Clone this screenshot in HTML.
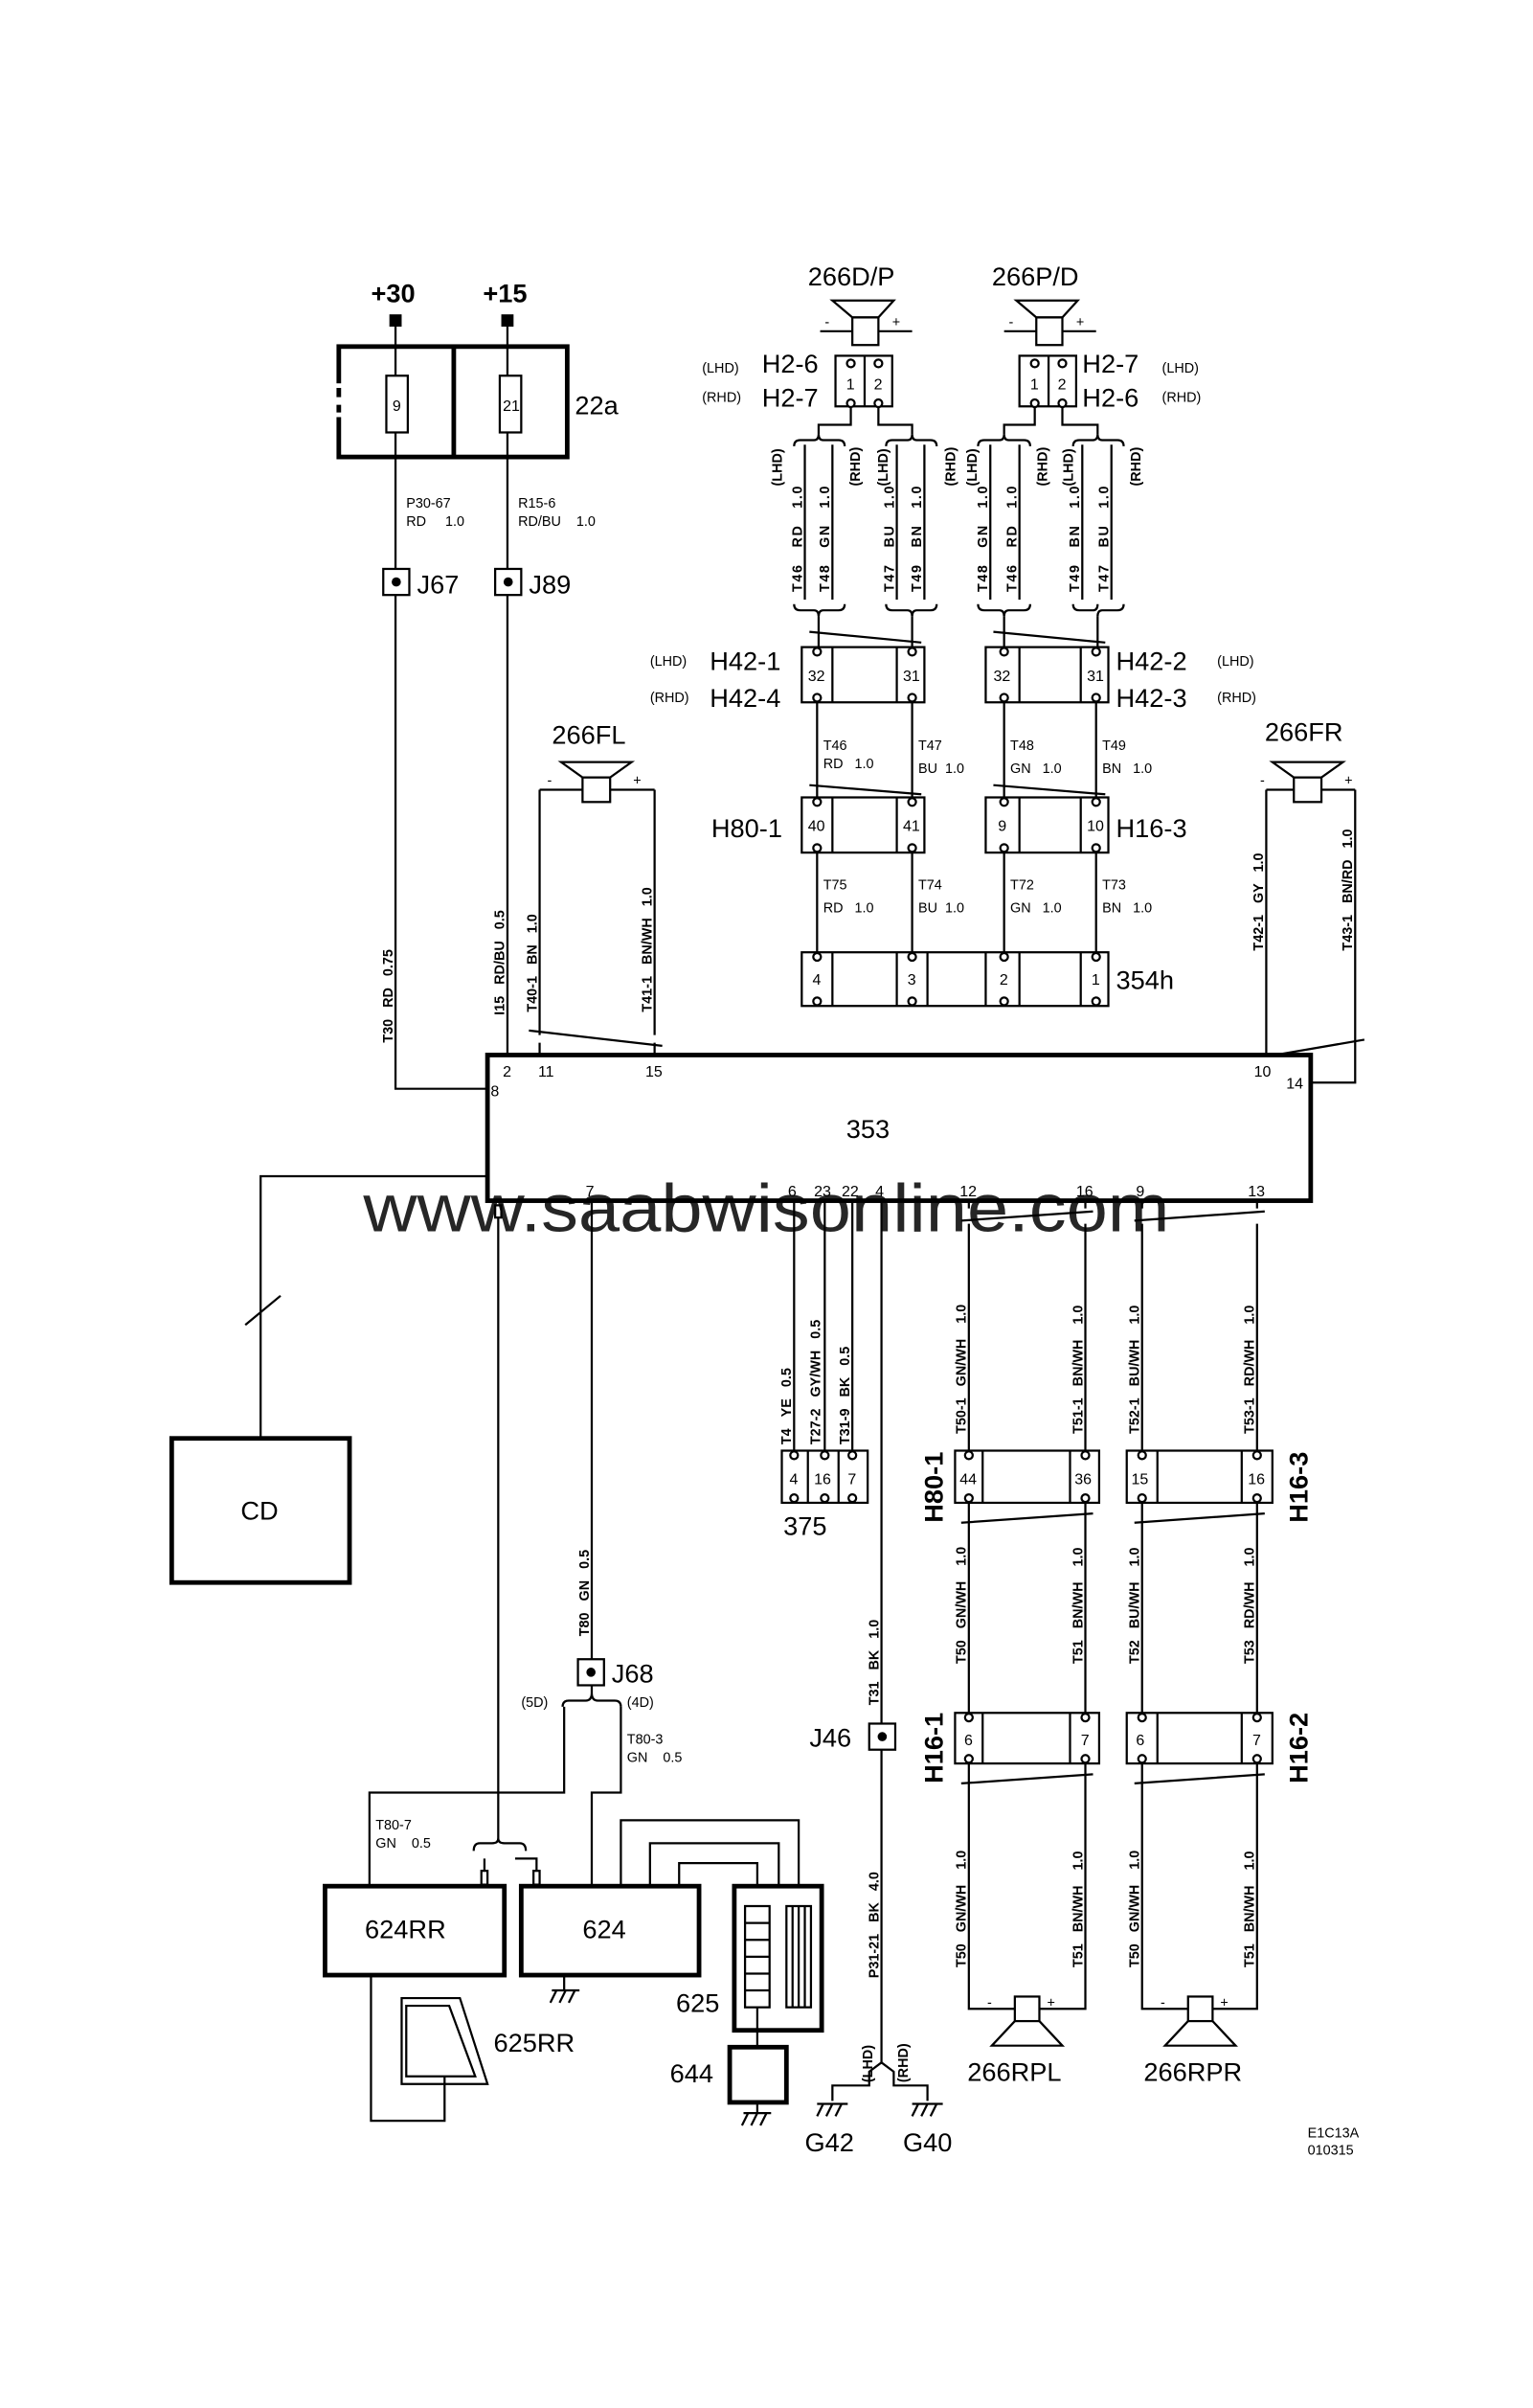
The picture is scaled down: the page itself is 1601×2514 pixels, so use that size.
<!DOCTYPE html>
<html><head><meta charset="utf-8"><style>
html,body{margin:0;padding:0;background:#fff}
svg{display:block}
text{font-family:"Liberation Sans",sans-serif;fill:#000}
.s{font-size:9px}
.m{font-size:10px}
.L{font-size:17px}
.v{font-size:9px;font-weight:bold}
.w{stroke:#000;stroke-width:1.4;fill:none}
.b{stroke:#000;stroke-width:3;fill:#fff}
.c{stroke:#000;stroke-width:1.4;fill:#fff}
</style></head><body>
<svg width="1601" height="2514" viewBox="0 0 1000 1570.3" xmlns="http://www.w3.org/2000/svg">
<rect x="0" y="0" width="1000" height="1571" fill="#fff"/>

<!-- +30 / +15 / 22a -->
<text class="L" x="242" y="197" font-weight="bold">+30</text>
<text class="L" x="315" y="197" font-weight="bold">+15</text>
<rect x="254" y="205" width="8" height="8" fill="#000"/>
<rect x="327" y="205" width="8" height="8" fill="#000"/>
<path class="w" d="M258,213V226M331,213V226"/>
<rect x="221" y="226" width="149" height="72" class="b"/>
<line x1="296" y1="226" x2="296" y2="298" stroke="#000" stroke-width="3"/>
<rect x="218" y="250" width="6" height="22" fill="#fff"/>
<line x1="221" y1="253" x2="221" y2="269" stroke="#000" stroke-width="3" stroke-dasharray="6 5"/>
<rect x="252" y="245" width="14" height="37" class="c"/>
<rect x="326" y="245" width="14" height="37" class="c"/>
<text class="m" x="256" y="268">9</text>
<text class="m" x="328" y="268">21</text>
<text class="L" x="375" y="270">22a</text>
<path class="w" d="M258,226V245M258,282V298M331,226V245M331,282V298"/>
<text class="s" x="265" y="331">P30-67</text>
<text class="s" x="265" y="343">RD &#160;&#160;&#160;&#160;1.0</text>
<text class="s" x="338" y="331">R15-6</text>
<text class="s" x="338" y="343">RD/BU &#160;&#160;&#160;1.0</text>
<path class="w" d="M258,298V371M331,298V371"/>
<rect x="250" y="371" width="17" height="17" class="c"/><circle cx="258.5" cy="379.5" r="3" fill="#000"/>
<rect x="323" y="371" width="17" height="17" class="c"/><circle cx="331.5" cy="379.5" r="3" fill="#000"/>
<text class="L" x="272" y="387">J67</text>
<text class="L" x="345" y="387">J89</text>
<path class="w" d="M258,388V710H318M331,388V688"/>
<text class="v" transform="translate(256,680) rotate(-90)">T30 &#160;&#160;RD &#160;&#160;0.75</text>
<text class="v" transform="translate(329,662) rotate(-90)">I15 &#160;&#160;RD/BU &#160;&#160;0.5</text>

<!-- 266FL -->
<text class="L" x="360" y="485">266FL</text>
<path class="w" d="M366,497H412L398,507H380Z"/>
<rect x="380" y="507" width="18" height="16" class="c"/>
<path class="w" d="M352,515H380M398,515H427M352,515V675M427,515V675"/>
<text class="s" x="357" y="512">-</text><text class="s" x="413" y="512">+</text>
<path class="w" d="M345,672L432,682M352,680V688M427,680V688"/>
<text class="v" transform="translate(350,660) rotate(-90)">T40-1 &#160;&#160;BN &#160;&#160;1.0</text>
<text class="v" transform="translate(425,660) rotate(-90)">T41-1 &#160;&#160;BN/WH &#160;&#160;1.0</text>

<!-- 266FR -->
<text class="L" x="825" y="483">266FR</text>
<path class="w" d="M830,497H876L862,507H844Z"/>
<rect x="844" y="507" width="18" height="16" class="c"/>
<path class="w" d="M826,515H844M862,515H884M826,515V690M884,515V706H855"/>
<text class="s" x="822" y="512">-</text><text class="s" x="877" y="512">+</text>
<path class="w" d="M820,690L890,678"/>
<text class="v" transform="translate(824,620) rotate(-90)">T42-1 &#160;&#160;GY &#160;&#160;1.0</text>
<text class="v" transform="translate(882,620) rotate(-90)">T43-1 &#160;&#160;BN/RD &#160;&#160;1.0</text>

<!-- 353 module -->
<rect x="318" y="688" width="537" height="95" class="b" stroke-width="2.5"/>
<text class="L" x="552" y="742">353</text>
<text class="m" x="320" y="715">8</text>
<text class="m" x="328" y="702">2</text>
<text class="m" x="351" y="702">11</text>
<text class="m" x="421" y="702">15</text>
<text class="m" x="818" y="702">10</text>
<text class="m" x="839" y="710">14</text>
<text class="m" x="382" y="780">7</text>
<text class="m" x="514" y="780">6</text>
<text class="m" x="531" y="780">23</text>
<text class="m" x="549" y="780">22</text>
<text class="m" x="571" y="780">4</text>
<text class="m" x="626" y="780">12</text>
<text class="m" x="702" y="780">16</text>
<text class="m" x="741" y="780">9</text>
<text class="m" x="814" y="780">13</text>

<!-- Top speakers 266D/P, 266P/D -->
<text class="L" x="527" y="186">266D/P</text>
<text class="L" x="647" y="186">266P/D</text>
<path class="w" d="M543,196H583L573,207H556Z"/>
<rect x="556" y="207" width="17" height="18" class="c"/>
<path class="w" d="M535,216H556M573,216H595"/>
<text class="s" x="538" y="213">-</text><text class="s" x="582" y="213">+</text>
<path class="w" d="M663,196H703L693,207H676Z"/>
<rect x="676" y="207" width="17" height="18" class="c"/>
<path class="w" d="M655,216H676M693,216H715"/>
<text class="s" x="658" y="213">-</text><text class="s" x="702" y="213">+</text>
<!-- H2 connectors -->
<rect x="545" y="232" width="37" height="33" class="c"/><line x1="564" y1="232" x2="564" y2="265" stroke="#000" stroke-width="1.4"/>
<rect x="665" y="232" width="37" height="33" class="c"/><line x1="684" y1="232" x2="684" y2="265" stroke="#000" stroke-width="1.4"/>
<text class="m" x="552" y="254">1</text><text class="m" x="570" y="254">2</text>
<text class="m" x="672" y="254">1</text><text class="m" x="690" y="254">2</text>
<circle cx="555" cy="237" r="2.5" class="c"/><circle cx="573" cy="237" r="2.5" class="c"/>
<circle cx="555" cy="263" r="2.5" class="c"/><circle cx="573" cy="263" r="2.5" class="c"/>
<circle cx="675" cy="237" r="2.5" class="c"/><circle cx="693" cy="237" r="2.5" class="c"/>
<circle cx="675" cy="263" r="2.5" class="c"/><circle cx="693" cy="263" r="2.5" class="c"/>
<text class="s" x="458" y="243">(LHD)</text><text class="L" x="497" y="243">H2-6</text>
<text class="s" x="458" y="262">(RHD)</text><text class="L" x="497" y="265">H2-7</text>
<text class="L" x="706" y="243">H2-7</text><text class="s" x="758" y="243">(LHD)</text>
<text class="L" x="706" y="265">H2-6</text><text class="s" x="758" y="262">(RHD)</text>
<path class="w" d="M555,266V277H534V283M573,266V277H595V283M675,266V277H655V283M693,266V277H716V283"/>
<!-- top braces -->
<g class="w">
<path d="M518,291Q518,287 522,287H531Q534,287 534,283Q534,287 537,287H547Q551,287 551,291"/>
<path d="M578,291Q578,287 582,287H592Q595,287 595,283Q595,287 598,287H607Q611,287 611,291"/>
<path d="M638,291Q638,287 642,287H652Q655,287 655,283Q655,287 658,287H668Q672,287 672,291"/>
<path d="M700,291Q700,287 704,287H713Q716,287 716,283Q716,287 719,287H729Q733,287 733,291"/>
<path d="M518,394Q518,398 522,398H531Q534,398 534,402Q534,398 537,398H547Q551,398 551,394"/>
<path d="M578,394Q578,398 582,398H592Q595,398 595,402Q595,398 598,398H607Q611,398 611,394"/>
<path d="M638,394Q638,398 642,398H652Q655,398 655,402Q655,398 658,398H668Q672,398 672,394"/>
<path d="M700,394Q700,398 704,398H713Q716,398 716,394"/>
<path d="M716,402Q716,398 719,398H729Q733,398 733,394"/>
<path d="M525,290V391M543,290V391M585,290V391M603,290V391M646,290V391M665,290V391M706,290V391M725,290V391"/>
<path d="M534,402V422M595,402V422M655,402V422M716,402V422"/>
</g>
<g class="v">
<text transform="translate(510,317) rotate(-90)">(LHD)</text>
<text transform="translate(523,386) rotate(-90)" textLength="69">T46 &#160;&#160;RD &#160;&#160;1.0</text>
<text transform="translate(541,386) rotate(-90)" textLength="69">T48 &#160;&#160;GN &#160;&#160;1.0</text>
<text transform="translate(561,317) rotate(-90)">(RHD)</text>
<text transform="translate(579,317) rotate(-90)">(LHD)</text>
<text transform="translate(583,386) rotate(-90)" textLength="69">T47 &#160;&#160;BU &#160;&#160;1.0</text>
<text transform="translate(601,386) rotate(-90)" textLength="69">T49 &#160;&#160;BN &#160;&#160;1.0</text>
<text transform="translate(623,317) rotate(-90)">(RHD)</text>
<text transform="translate(637,317) rotate(-90)">(LHD)</text>
<text transform="translate(644,386) rotate(-90)" textLength="69">T48 &#160;&#160;GN &#160;&#160;1.0</text>
<text transform="translate(663,386) rotate(-90)" textLength="69">T46 &#160;&#160;RD &#160;&#160;1.0</text>
<text transform="translate(683,317) rotate(-90)">(RHD)</text>
<text transform="translate(700,317) rotate(-90)">(LHD)</text>
<text transform="translate(704,386) rotate(-90)" textLength="69">T49 &#160;&#160;BN &#160;&#160;1.0</text>
<text transform="translate(723,386) rotate(-90)" textLength="69">T47 &#160;&#160;BU &#160;&#160;1.0</text>
<text transform="translate(744,317) rotate(-90)">(RHD)</text>
</g>

<!-- H42 -->
<path class="w" d="M528,412L601,419M648,412L721,419"/>
<g>
<rect x="523" y="422" width="80" height="36" class="c"/><path class="w" d="M543,422V458M585,422V458"/>
<rect x="643" y="422" width="80" height="36" class="c"/><path class="w" d="M665,422V458M705,422V458"/>
<circle cx="533" cy="425" r="2.5" class="c"/><circle cx="595" cy="425" r="2.5" class="c"/><circle cx="533" cy="455" r="2.5" class="c"/><circle cx="595" cy="455" r="2.5" class="c"/>
<circle cx="655" cy="425" r="2.5" class="c"/><circle cx="715" cy="425" r="2.5" class="c"/><circle cx="655" cy="455" r="2.5" class="c"/><circle cx="715" cy="455" r="2.5" class="c"/>
<text class="m" x="527" y="444">32</text><text class="m" x="589" y="444">31</text>
<text class="m" x="648" y="444">32</text><text class="m" x="709" y="444">31</text>
</g>
<text class="s" x="424" y="434">(LHD)</text><text class="L" x="463" y="437">H42-1</text>
<text class="s" x="424" y="458">(RHD)</text><text class="L" x="463" y="461">H42-4</text>
<text class="L" x="728" y="437">H42-2</text><text class="s" x="794" y="434">(LHD)</text>
<text class="L" x="728" y="461">H42-3</text><text class="s" x="794" y="458">(RHD)</text>
<path class="w" d="M533,458V520M595,458V520M655,458V520M715,458V520"/>
<path class="w" d="M528,512L601,518M648,512L721,518"/>
<text class="s" x="537" y="489">T46</text><text class="s" x="537" y="501">RD &#160;&#160;1.0</text>
<text class="s" x="599" y="489">T47</text><text class="s" x="599" y="504">BU &#160;1.0</text>
<text class="s" x="659" y="489">T48</text><text class="s" x="659" y="504">GN &#160;&#160;1.0</text>
<text class="s" x="719" y="489">T49</text><text class="s" x="719" y="504">BN &#160;&#160;1.0</text>

<!-- H80-1 / H16-3 upper -->
<rect x="523" y="520" width="80" height="36" class="c"/><path class="w" d="M543,520V556M585,520V556"/>
<rect x="643" y="520" width="80" height="36" class="c"/><path class="w" d="M665,520V556M705,520V556"/>
<circle cx="533" cy="523" r="2.5" class="c"/><circle cx="595" cy="523" r="2.5" class="c"/><circle cx="533" cy="553" r="2.5" class="c"/><circle cx="595" cy="553" r="2.5" class="c"/>
<circle cx="655" cy="523" r="2.5" class="c"/><circle cx="715" cy="523" r="2.5" class="c"/><circle cx="655" cy="553" r="2.5" class="c"/><circle cx="715" cy="553" r="2.5" class="c"/>
<text class="m" x="527" y="542">40</text><text class="m" x="589" y="542">41</text>
<text class="m" x="651" y="542">9</text><text class="m" x="709" y="542">10</text>
<text class="L" x="464" y="546">H80-1</text>
<text class="L" x="728" y="546">H16-3</text>
<path class="w" d="M533,556V621M595,556V621M655,556V621M715,556V621"/>
<text class="s" x="537" y="580">T75</text><text class="s" x="537" y="595">RD &#160;&#160;1.0</text>
<text class="s" x="599" y="580">T74</text><text class="s" x="599" y="595">BU &#160;1.0</text>
<text class="s" x="659" y="580">T72</text><text class="s" x="659" y="595">GN &#160;&#160;1.0</text>
<text class="s" x="719" y="580">T73</text><text class="s" x="719" y="595">BN &#160;&#160;1.0</text>

<!-- 354h -->
<rect x="523" y="621" width="200" height="35" class="c"/>
<path class="w" d="M543,621V656M585,621V656M605,621V656M643,621V656M665,621V656M705,621V656"/>
<circle cx="533" cy="624" r="2.5" class="c"/><circle cx="595" cy="624" r="2.5" class="c"/><circle cx="655" cy="624" r="2.5" class="c"/><circle cx="715" cy="624" r="2.5" class="c"/>
<circle cx="533" cy="653" r="2.5" class="c"/><circle cx="595" cy="653" r="2.5" class="c"/><circle cx="655" cy="653" r="2.5" class="c"/><circle cx="715" cy="653" r="2.5" class="c"/>
<text class="m" x="530" y="642">4</text><text class="m" x="592" y="642">3</text><text class="m" x="652" y="642">2</text><text class="m" x="712" y="642">1</text>
<text class="L" x="728" y="645">354h</text>

<!-- CD -->
<path class="w" d="M318,767H170V938"/>
<line x1="160" y1="864" x2="183" y2="845" stroke="#000" stroke-width="1.4"/>
<rect x="112" y="938" width="116" height="94" class="b" fill="none"/>
<text class="L" x="157" y="991">CD</text>

<!-- 375 group -->
<path class="w" d="M518,783V946M538,783V946M556,783V946M575,783V1124M575,1141V1345"/>
<text class="v" transform="translate(516,942) rotate(-90)">T4 &#160;&#160;YE &#160;&#160;0.5</text>
<text class="v" transform="translate(535,942) rotate(-90)">T27-2 &#160;&#160;GY/WH &#160;&#160;0.5</text>
<text class="v" transform="translate(554,942) rotate(-90)">T31-9 &#160;&#160;BK &#160;&#160;0.5</text>
<rect x="510" y="946" width="56" height="34" class="c"/><path class="w" d="M527,946V980M547,946V980"/>
<circle cx="518" cy="949" r="2.5" class="c"/><circle cx="538" cy="949" r="2.5" class="c"/><circle cx="556" cy="949" r="2.5" class="c"/>
<circle cx="518" cy="977" r="2.5" class="c"/><circle cx="538" cy="977" r="2.5" class="c"/><circle cx="556" cy="977" r="2.5" class="c"/>
<text class="m" x="515" y="968">4</text><text class="m" x="531" y="968">16</text><text class="m" x="553" y="968">7</text>
<text class="L" x="511" y="1001">375</text>
<text class="v" transform="translate(573,1112) rotate(-90)">T31 &#160;&#160;BK &#160;&#160;1.0</text>
<rect x="567" y="1124" width="17" height="17" class="c"/><circle cx="575.5" cy="1132.5" r="3" fill="#000"/>
<text class="L" x="528" y="1139">J46</text>
<text class="v" transform="translate(573,1290) rotate(-90)">P31-21 &#160;&#160;BK &#160;&#160;4.0</text>
<text class="v" transform="translate(569,1358) rotate(-90)">(LHD)</text>
<text class="v" transform="translate(592,1358) rotate(-90)">(RHD)</text>
<path class="w" d="M575,1345L567,1351V1360H543V1370M575,1345L583,1351V1360H605V1370"/>
<g class="w">
<path d="M533,1372H553M537,1372L533,1380M543,1372L539,1380M549,1372L545,1380"/>
<path d="M595,1372H615M599,1372L595,1380M605,1372L601,1380M611,1372L607,1380"/>
</g>
<text class="L" x="525" y="1403">G42</text>
<text class="L" x="589" y="1403">G40</text>

<!-- Rear harness -->
<path class="w" d="M632,783V788M708,783V788M745,783V788M820,783V788M627,796L713,790M740,796L825,790"/>
<path class="w" d="M632,798V946M708,798V946M745,798V946M820,798V946"/>
<text class="v" transform="translate(630,935) rotate(-90)">T50-1 &#160;&#160;GN/WH &#160;&#160;&#160;1.0</text>
<text class="v" transform="translate(706,935) rotate(-90)">T51-1 &#160;&#160;BN/WH &#160;&#160;&#160;1.0</text>
<text class="v" transform="translate(743,935) rotate(-90)">T52-1 &#160;&#160;BU/WH &#160;&#160;&#160;1.0</text>
<text class="v" transform="translate(818,935) rotate(-90)">T53-1 &#160;&#160;RD/WH &#160;&#160;&#160;1.0</text>
<!-- H80-1 / H16-3 lower -->
<rect x="623" y="946" width="94" height="34" class="c"/><path class="w" d="M641,946V980M698,946V980"/>
<rect x="735" y="946" width="95" height="34" class="c"/><path class="w" d="M755,946V980M810,946V980"/>
<circle cx="632" cy="949" r="2.5" class="c"/><circle cx="708" cy="949" r="2.5" class="c"/><circle cx="632" cy="977" r="2.5" class="c"/><circle cx="708" cy="977" r="2.5" class="c"/>
<circle cx="745" cy="949" r="2.5" class="c"/><circle cx="820" cy="949" r="2.5" class="c"/><circle cx="745" cy="977" r="2.5" class="c"/><circle cx="820" cy="977" r="2.5" class="c"/>
<text class="m" x="626" y="968">44</text><text class="m" x="701" y="968">36</text>
<text class="m" x="738" y="968">15</text><text class="m" x="814" y="968">16</text>
<text class="L" font-weight="bold" transform="translate(615,993) rotate(-90)">H80-1</text>
<text class="L" font-weight="bold" transform="translate(853,993) rotate(-90)">H16-3</text>
<path class="w" d="M627,993L713,987M740,993L825,987"/>
<path class="w" d="M632,980V1117M708,980V1117M745,980V1117M820,980V1117"/>
<text class="v" transform="translate(630,1085) rotate(-90)">T50 &#160;&#160;GN/WH &#160;&#160;&#160;1.0</text>
<text class="v" transform="translate(706,1085) rotate(-90)">T51 &#160;&#160;BN/WH &#160;&#160;&#160;1.0</text>
<text class="v" transform="translate(743,1085) rotate(-90)">T52 &#160;&#160;BU/WH &#160;&#160;&#160;1.0</text>
<text class="v" transform="translate(818,1085) rotate(-90)">T53 &#160;&#160;RD/WH &#160;&#160;&#160;1.0</text>
<!-- H16-1 / H16-2 -->
<rect x="623" y="1117" width="94" height="33" class="c"/><path class="w" d="M641,1117V1150M698,1117V1150"/>
<rect x="735" y="1117" width="95" height="33" class="c"/><path class="w" d="M755,1117V1150M810,1117V1150"/>
<circle cx="632" cy="1120" r="2.5" class="c"/><circle cx="708" cy="1120" r="2.5" class="c"/><circle cx="632" cy="1147" r="2.5" class="c"/><circle cx="708" cy="1147" r="2.5" class="c"/>
<circle cx="745" cy="1120" r="2.5" class="c"/><circle cx="820" cy="1120" r="2.5" class="c"/><circle cx="745" cy="1147" r="2.5" class="c"/><circle cx="820" cy="1147" r="2.5" class="c"/>
<text class="m" x="629" y="1138">6</text><text class="m" x="705" y="1138">7</text>
<text class="m" x="741" y="1138">6</text><text class="m" x="817" y="1138">7</text>
<text class="L" font-weight="bold" transform="translate(615,1163) rotate(-90)">H16-1</text>
<text class="L" font-weight="bold" transform="translate(853,1163) rotate(-90)">H16-2</text>
<path class="w" d="M627,1163L713,1157M740,1163L825,1157"/>
<path class="w" d="M632,1150V1310H662M708,1150V1310H678M745,1150V1310H775M820,1150V1310H791"/>
<text class="v" transform="translate(630,1283) rotate(-90)">T50 &#160;&#160;GN/WH &#160;&#160;&#160;1.0</text>
<text class="v" transform="translate(706,1283) rotate(-90)">T51 &#160;&#160;BN/WH &#160;&#160;&#160;1.0</text>
<text class="v" transform="translate(743,1283) rotate(-90)">T50 &#160;&#160;GN/WH &#160;&#160;&#160;1.0</text>
<text class="v" transform="translate(818,1283) rotate(-90)">T51 &#160;&#160;BN/WH &#160;&#160;&#160;1.0</text>
<!-- rear speakers -->
<rect x="662" y="1302" width="16" height="16" class="c"/>
<path class="w" d="M662,1318L647,1334H693L678,1318"/>
<text class="s" x="644" y="1309">-</text><text class="s" x="683" y="1309">+</text>
<rect x="775" y="1302" width="16" height="16" class="c"/>
<path class="w" d="M775,1318L760,1334H806L791,1318"/>
<text class="s" x="757" y="1309">-</text><text class="s" x="796" y="1309">+</text>
<text class="L" x="631" y="1357">266RPL</text>
<text class="L" x="746" y="1357">266RPR</text>

<!-- J68 branch -->
<path class="w" d="M386,783V1082"/>
<text class="v" transform="translate(384,1067) rotate(-90)">T80 &#160;&#160;GN &#160;&#160;0.5</text>
<rect x="377" y="1082" width="17" height="17" class="c"/><circle cx="385.5" cy="1090.5" r="3" fill="#000"/>
<text class="L" x="399" y="1097">J68</text>
<path class="w" d="M386,1099V1104M367,1113Q367,1109 371,1109H382Q386,1109 386,1104Q386,1109 390,1109H401Q405,1109 405,1113"/>
<text class="s" x="340" y="1113">(5D)</text>
<text class="s" x="409" y="1113">(4D)</text>
<path class="w" d="M405,1113V1169H386V1230M368,1113V1169H241V1230"/>
<text class="s" x="409" y="1137">T80-3</text>
<text class="s" x="409" y="1149">GN &#160;&#160;&#160;0.5</text>
<text class="s" x="245" y="1193">T80-7</text>
<text class="s" x="245" y="1205">GN &#160;&#160;&#160;0.5</text>
<!-- line from 353 left pin -->
<rect x="323" y="786" width="4" height="8" class="c"/>
<path class="w" d="M325,794V1200"/>
<path class="w" d="M309,1207Q309,1202 313,1202H321Q325,1202 325,1199Q325,1202 329,1202H339Q343,1202 343,1207"/>
<path class="w" d="M316,1212V1228M336,1212H350V1228"/>
<rect x="314" y="1220" width="4" height="9" class="c" stroke-width="1"/>
<rect x="348" y="1220" width="4" height="9" class="c" stroke-width="1"/>

<!-- 624RR / 624 / 625 / 644 -->
<rect x="212" y="1230" width="117" height="58" class="b" fill="none"/>
<text class="L" x="238" y="1264">624RR</text>
<rect x="340" y="1230" width="116" height="58" class="b" fill="none"/>
<text class="L" x="380" y="1264">624</text>
<path class="w" d="M368,1288V1298"/>
<g class="w" stroke-width="2"><path d="M360,1298H378M363,1298L359,1306M369,1298L365,1306M375,1298L371,1306"/></g>
<path class="w" d="M405,1230V1187H521V1243M424,1230V1202H508V1309M443,1230V1215H494V1243"/>
<rect x="479" y="1230" width="57" height="94" class="b" fill="none"/>
<rect x="486" y="1243" width="16" height="66" class="c"/>
<path class="w" d="M486,1254H502M486,1265H502M486,1276H502M486,1287H502M486,1298H502"/>
<rect x="513" y="1243" width="16" height="66" class="c"/>
<path class="w" d="M517,1243V1309M521,1243V1309M525,1243V1309"/>
<path class="w" d="M494,1309V1335"/>
<rect x="476" y="1335" width="37" height="36" class="b" fill="none"/>
<path class="w" d="M494,1371V1378"/>
<g class="w" stroke-width="2"><path d="M485,1378H503M488,1378L484,1386M494,1378L490,1386M500,1378L496,1386"/></g>
<text class="L" x="441" y="1312">625</text>
<text class="L" x="437" y="1358">644</text>
<!-- 625RR -->
<path class="w" d="M242,1288V1383H290V1354"/>
<path class="w" d="M262,1303H300L318,1359H262Z"/>
<path class="w" d="M265,1308H293L310,1354H265Z"/>
<text class="L" x="322" y="1338">625RR</text>

<!-- watermark -->
<text x="237" y="803" font-size="44" fill="#7a7a7a" fill-opacity="0.85" textLength="526" lengthAdjust="spacingAndGlyphs">www.saabwisonline.com</text>

<text class="s" x="853" y="1394">E1C13A</text>
<text class="s" x="853" y="1405">010315</text>
</svg>
</body></html>
